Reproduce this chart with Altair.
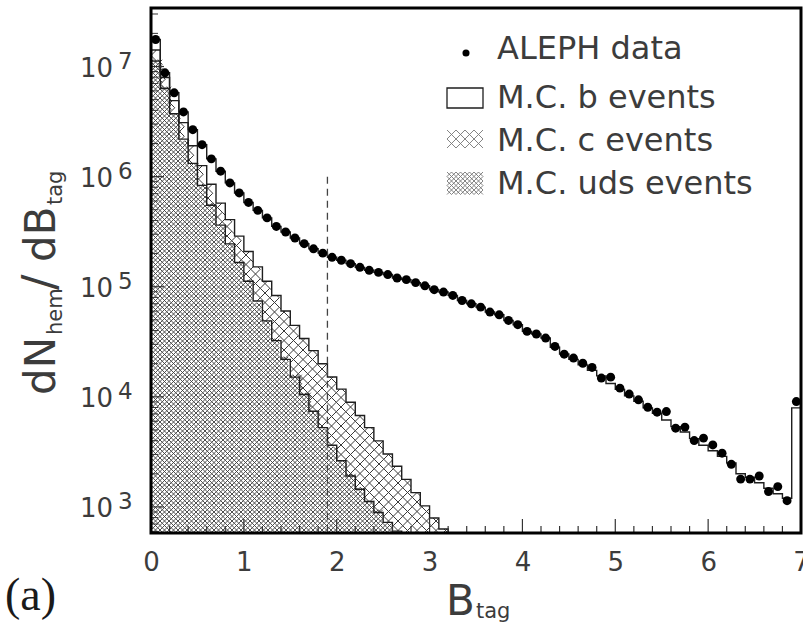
import math
import altair as alt
import pandas as pd

# ---------------- values ----------------
BIN_WIDTH = 0.1
# ALEPH data, one value per 0.1 bin of B_tag (bin 6.9-7.0 is the overflow bin)
aleph_data = [1.76e7, 8.77e6, 5.77e6, 3.87e6, 2.67e6, 1.95e6, 1.45e6, 1.12e6, 8.77e5, 7.11e5,
              5.83e5, 4.94e5, 4.22e5, 3.53e5, 3.14e5, 2.77e5, 2.46e5, 2.21e5, 2.02e5, 1.85e5,
              1.74e5, 1.62e5, 1.50e5, 1.41e5, 1.35e5, 1.29e5, 1.20e5, 1.16e5, 1.09e5, 1.02e5,
              9.40e4, 8.95e4, 8.34e4, 7.50e4, 7.00e4, 6.53e4, 5.89e4, 5.56e4, 4.94e4, 4.52e4,
              3.93e4, 3.72e4, 3.42e4, 2.87e4, 2.44e4, 2.25e4, 2.02e4, 1.85e4, 1.48e4, 1.51e4,
              1.20e4, 1.06e4, 9.40e3, 8.05e3, 7.26e3, 7.35e3, 5.19e3, 5.31e3, 4.01e3, 4.22e3,
              3.66e3, 3.08e3, 2.44e3, 1.79e3, 1.79e3, 1.91e3, 1.38e3, 1.53e3, 1.14e3, 9.06e3]
# top of the Monte Carlo stack (b + c + uds)
mc_total = [1.76e7, 8.77e6, 5.77e6, 3.87e6, 2.67e6, 1.95e6, 1.45e6, 1.12e6, 8.77e5, 7.11e5,
            5.83e5, 4.94e5, 4.22e5, 3.53e5, 3.14e5, 2.77e5, 2.46e5, 2.21e5, 2.02e5, 1.85e5,
            1.74e5, 1.62e5, 1.50e5, 1.41e5, 1.35e5, 1.29e5, 1.20e5, 1.16e5, 1.09e5, 1.02e5,
            9.40e4, 8.95e4, 8.34e4, 7.50e4, 7.00e4, 6.53e4, 5.89e4, 5.56e4, 4.94e4, 4.52e4,
            3.93e4, 3.72e4, 3.42e4, 2.82e4, 2.45e4, 2.19e4, 1.95e4, 1.74e4, 1.55e4, 1.32e4,
            1.17e4, 1.02e4, 9.12e3, 7.94e3, 7.08e3, 6.17e3, 5.37e3, 4.79e3, 4.17e3, 3.63e3,
            3.24e3, 2.88e3, 2.51e3, 2.00e3, 1.86e3, 1.66e3, 1.48e3, 1.32e3, 1.20e3, 7.94e3]
# M.C. c events (stacked on uds)
mc_c = [2.91e6, 1.63e6, 1.18e6, 9.02e5, 5.87e5, 4.27e5, 3.02e5, 2.12e5, 1.62e5, 1.22e5,
        9.67e4, 7.73e4, 6.32e4, 5.08e4, 3.84e4, 2.95e4, 2.34e4, 1.89e4, 1.47e4, 1.15e4,
        9.12e3, 7.01e3, 5.32e3, 4.13e3, 3.09e3, 2.30e3, 1.74e3, 1.28e3, 932, 668, 492, 374]
# M.C. uds events (bottom of the stack)
mc_uds = [1.12e7, 6.31e6, 3.72e6, 2.19e6, 1.32e6, 8.32e5, 5.50e5, 3.63e5, 2.45e5, 1.66e5,
          1.12e5, 7.41e4, 4.90e4, 3.24e4, 2.19e4, 1.51e4, 1.05e4, 7.41e3, 5.25e3, 3.63e3,
          2.63e3, 1.91e3, 1.45e3, 1.12e3, 891, 724, 603, 501, 417, 355, 302, 257]
B_CUT = 1.9
CUT_TOP = 1.0e6
x_labels = [0, 1, 2, 3, 4, 5, 6, 7]
y_decades = [3, 4, 5, 6, 7]
legend_labels = ["ALEPH data", "M.C. b events", "M.C. c events", "M.C. uds events"]

# ---------------- layout / style ----------------
W, H = 650, 525
X_MAX = 7.0
Y_LO, Y_HI = 580.0, 3.4e7
LLO, LHI = math.log10(Y_LO), math.log10(Y_HI)
FLOOR = 1.0
FONT = "DejaVu Sans"
TXT = "#3c3c3c"
LINE = "#1e1e1e"
HATCH = "#3a3a3a"
XPATH = "M-1,-1L1,1M-1,1L1,-1"
S_C, S_UDS = 9.5, 4.5


def px_of_x(x):
    return x / X_MAX * W


def x_of_px(p):
    return p / W * X_MAX


def py_of_y(v):
    return H - (math.log10(v) - LLO) / (LHI - LLO) * H


def y_of_py(p):
    return 10 ** (LLO + (H - p) / H * (LHI - LLO))


XS = alt.Scale(domain=[0, X_MAX], nice=False, zero=False)
YS = alt.Scale(type="log", domain=[Y_LO, Y_HI], nice=False)
XA = alt.Axis(values=x_labels, format="d", labelFontSize=26, labelFont=FONT, labelColor=TXT,
              ticks=False, tickSize=0, domain=False, grid=False, labelPadding=16,
              labelFlush=False, labelOverlap=False, title=None)


def X(f="x"):
    return alt.X(f"{f}:Q", scale=XS, axis=XA)


def Y(f="y"):
    return alt.Y(f"{f}:Q", scale=YS, axis=None, stack=None)


# ---------------- derived tables ----------------
n = len(aleph_data)
uds_top = list(mc_uds)
c_top = [u + c for u, c in zip(mc_uds, mc_c)]


def step_df(vals, drop):
    xs = [k * BIN_WIDTH for k in range(len(vals))] + [len(vals) * BIN_WIDTH]
    ys = list(vals) + [FLOOR if drop else vals[-1]]
    return pd.DataFrame({"x": xs, "y": ys})


points_df = pd.DataFrame({"x": [(k + 0.5) * BIN_WIDTH for k in range(n)], "y": aleph_data})
total_step = step_df(mc_total, False)
c_step = step_df(c_top, True)
uds_step = step_df(uds_top, True)
cover_vals = c_top + [FLOOR] * (n - len(c_top))
cover_step = step_df(cover_vals, False)


def lattice(tops, s, pad):
    xs, ys = [], []
    for k, v in enumerate(tops):
        x0, x1 = px_of_x(k * BIN_WIDTH), px_of_x((k + 1) * BIN_WIDTH)
        top = max(py_of_y(v) - pad, -s)
        bot = H + s
        i = math.ceil(x0 / s)
        while i * s < x1:
            j = math.ceil(top / s)
            while j * s <= bot:
                xs.append(x_of_px(i * s))
                ys.append(y_of_py(j * s))
                j += 1
            i += 1
    return pd.DataFrame({"x": xs, "y": ys})


def swatch(x0, x1, y0, y1, s):
    xs, ys = [], []
    px = x0 + s / 2
    while px <= x1 - s / 2 + 0.01:
        py = y0 + s / 2
        while py <= y1 - s / 2 + 0.01:
            xs.append(x_of_px(px))
            ys.append(y_of_py(py))
            py += s
        px += s
    return pd.DataFrame({"x": xs, "y": ys})


c_lat = lattice(c_top, S_C, S_C / 2)
uds_lat = lattice([v for v in uds_top if v > Y_LO * 0.9], S_UDS, 0.5)
c_sw = swatch(296, 332, 122, 143, 9.0)
uds_sw = swatch(296, 332, 164, 187, 4.5)

x_major = pd.DataFrame({"x": [1, 2, 3, 4, 5, 6]})
x_minor = pd.DataFrame({"x": [round(i * 0.2, 1) for i in range(1, 35) if i % 5 != 0]})
y_major = pd.DataFrame({"y": [10.0 ** d for d in y_decades]})
y_minor = pd.DataFrame({"y": [m * 10.0 ** d for d in range(2, 8) for m in range(2, 10)
                              if Y_LO < m * 10.0 ** d < Y_HI]})
dec_df = pd.DataFrame({"y": [10.0 ** d for d in y_decades], "exp": [str(d) for d in y_decades]})
cut_df = pd.DataFrame({"x": [B_CUT], "y": [CUT_TOP], "y2": [Y_LO]})
ONE = pd.DataFrame({"o": [0]})


def hatch(df, s, width, color=HATCH, clip=True):
    return alt.Chart(df).mark_point(shape=XPATH, filled=False, size=s * s, color=color,
                                    strokeWidth=width, opacity=1, clip=clip).encode(x=X(), y=Y())


def steps(df, width=1.4):
    return alt.Chart(df).mark_line(interpolate="step-after", color=LINE, strokeWidth=width,
                                   clip=True).encode(x=X(), y=Y())


def txt(s, x, y, size, font=FONT, color=TXT, **kw):
    return alt.Chart(ONE).mark_text(text=s, fontSize=size, font=font, color=color, **kw).encode(
        x=alt.value(x), y=alt.value(y))


layers = [
    hatch(c_lat, S_C, 1.0),
    alt.Chart(cover_step).mark_area(interpolate="step-after", color="white", opacity=1,
                                    clip=True).encode(x=X(), y=Y(), y2=alt.value(0)),
    alt.Chart(uds_step).mark_area(interpolate="step-after", color="white", opacity=1,
                                  clip=True).encode(x=X(), y=Y(), y2=alt.value(H)),
    hatch(uds_lat, S_UDS, 0.9),
    steps(uds_step),
    steps(c_step),
    steps(total_step),
    alt.Chart(cut_df).mark_rule(color="#444", strokeWidth=1.3, strokeDash=[7, 5]).encode(
        x=X(), y=Y(), y2="y2:Q"),
    alt.Chart(points_df).mark_circle(size=80, color="black", opacity=1).encode(x=X(), y=Y()),
    # inward ticks
    alt.Chart(x_major).mark_rule(color="#333", strokeWidth=1.2).encode(
        x=X(), y=alt.value(H), y2=alt.value(H - 14)),
    alt.Chart(x_minor).mark_rule(color="#333", strokeWidth=1.2).encode(
        x=X(), y=alt.value(H), y2=alt.value(H - 7)),
    alt.Chart(y_major).mark_rule(color="#333", strokeWidth=1.2).encode(
        y=Y(), x=alt.value(0), x2=alt.value(13)),
    alt.Chart(y_minor).mark_rule(color="#333", strokeWidth=1.0).encode(
        y=Y(), x=alt.value(0), x2=alt.value(7)),
    # y tick labels 10^n
    alt.Chart(dec_df).mark_text(text="10", align="right", baseline="alphabetic", dy=10,
                                fontSize=26, font=FONT, color=TXT).encode(x=alt.value(-38), y=Y()),
    alt.Chart(dec_df).mark_text(align="left", baseline="alphabetic", dy=2,
                                fontSize=23, font=FONT, color=TXT).encode(
        x=alt.value(-33), y=Y(), text="exp:N"),
    # legend
    alt.Chart(ONE).mark_circle(size=50, color="black", opacity=1).encode(
        x=alt.value(315), y=alt.value(45)),
    alt.Chart(ONE).mark_rect(fill="white", stroke=LINE, strokeWidth=1.3).encode(
        x=alt.value(296), x2=alt.value(332), y=alt.value(80), y2=alt.value(100)),
    hatch(c_sw, 9.0, 0.9, color="#777", clip=False),
    hatch(uds_sw, 4.5, 0.8, color="#666", clip=False),
]
for label, yy in zip(legend_labels, [41, 90, 133, 176]):
    layers.append(txt(label, 346, yy, 32, align="left", baseline="middle"))

# axis titles and panel label
layers += [
    txt("B", 295, 607, 42, align="left", baseline="alphabetic"),
    txt("tag", 325, 610, 21, align="left", baseline="alphabetic"),
    txt("dN", -96, 387, 42, angle=270, align="left", baseline="alphabetic"),
    txt("hem", -89, 327, 21, angle=270, align="left", baseline="alphabetic"),
    txt("/", -96, 282, 46, angle=270, align="left", baseline="alphabetic"),
    txt("dB", -96, 254, 42, angle=270, align="left", baseline="alphabetic"),
    txt("tag", -89, 197, 21, angle=270, align="left", baseline="alphabetic"),
    txt("(a)", -146, 602, 46, font="Liberation Serif", color="#1a1a1a",
        align="left", baseline="alphabetic"),
    # plot frame
    alt.Chart(ONE).mark_rect(fill=None, fillOpacity=0, stroke="black", strokeWidth=3).encode(
        x=alt.value(0), x2=alt.value(W), y=alt.value(0), y2=alt.value(H)),
]

chart = alt.layer(*layers).properties(
    width=W, height=H,
    padding={"left": 151, "top": 8, "right": 2, "bottom": 92},
    autosize=alt.AutoSizeParams(type="none"),
).configure_view(stroke=None)

chart.save("out.html", embed_options={"renderer": "svg", "actions": False})
